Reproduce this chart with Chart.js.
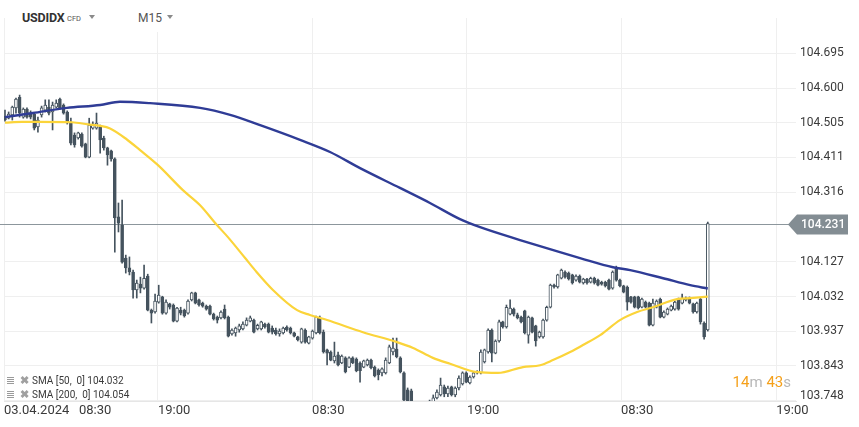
<!DOCTYPE html>
<html>
<head>
<meta charset="utf-8">
<script src="https://cdn.jsdelivr.net/npm/chart.js@4.4.1/dist/chart.umd.min.js"></script>
<style>
  html, body { margin:0; padding:0; background:#fff; }
  #wrap { position:relative; width:859px; height:427px; overflow:hidden; font-family: Roboto, "Noto Sans", sans-serif; }
  canvas { position:absolute; left:0; top:0; }
  .hdr { position:absolute; left:8px; top:0; width:232px; height:32px; background:#fff; }
  .sym { position:absolute; left:22px; top:10px; font-weight:700; font-size:12.5px; color:#333; letter-spacing:-0.2px; }
  .cfd { position:absolute; left:67px; top:14px; font-size:7.5px; color:#555; }
  .tri { position:absolute; width:0; height:0; border-left:3.5px solid transparent; border-right:3.5px solid transparent; border-top:4.5px solid #8a8a8a; }
  .tf { position:absolute; left:138px; top:11px; font-size:12px; color:#555; }
  .leg { position:absolute; left:7px; font-size:10px; color:#3a3a3a; white-space:pre; line-height:12px; }
  .leg .ic { display:inline-block; width:7px; height:7px; margin-right:6px; vertical-align:0px;
             background: repeating-linear-gradient(#9a9a9a 0 1px, transparent 1px 2px); }
  .leg .x { display:inline-block; color:#a0a0a0; font-size:11px; font-weight:700; margin-right:3px; }
  .cd { position:absolute; right:68px; top:374px; font-size:15px; line-height:16px; white-space:pre; }
  .cd .o { color:#f5a01a; } .cd .g { color:#b8b8b8; }
</style>
</head>
<body>
<div id="wrap">
  <canvas id="c" width="859" height="427"></canvas>
  <div class="hdr"></div>
  <div class="sym">USDIDX</div>
  <div class="cfd">CFD</div>
  <div class="tri" style="left:89px;top:15px;"></div>
  <div class="tf">M15</div>
  <div class="tri" style="left:167px;top:15px;"></div>
  <div class="leg" style="top:375px;"><span class="ic"></span><span class="x">✖</span>SMA [50,  0] 104.032</div>
  <div class="leg" style="top:389px;"><span class="ic"></span><span class="x">✖</span>SMA [200,  0] 104.054</div>
  <div class="cd"><span class="o">14</span><span class="g">m</span> <span class="o">43</span><span class="g">s</span></div>
</div>
<script>
// ---- candle data (USDIDX, M15) ----
const opens = [
104.524,104.518,104.527,104.546,104.575,104.521,104.543,104.532,104.529,104.494,
104.527,104.540,104.548,104.535,104.548,104.570,104.554,104.535,104.505,104.472,
104.464,104.475,104.448,104.412,104.491,104.491,104.494,104.464,104.437,104.429,
104.407,104.249,104.227,104.137,104.110,104.099,104.050,104.066,104.055,104.088,
103.995,103.990,104.017,104.031,103.987,104.012,104.009,103.965,103.995,103.995,
103.987,104.023,104.042,104.023,104.014,104.006,104.006,103.984,103.976,103.974,
103.998,103.976,103.930,103.933,103.941,103.944,103.954,103.965,103.968,103.944,
103.944,103.957,103.957,103.946,103.941,103.930,103.933,103.949,103.946,103.933,
103.922,103.908,103.941,103.905,103.919,103.933,103.974,103.935,103.887,103.881,
103.857,103.873,103.851,103.865,103.840,103.865,103.862,103.851,103.840,103.846,
103.859,103.840,103.832,103.824,103.824,103.851,103.881,103.889,103.865,103.824,
103.778,103.775,103.739,103.717,103.734,103.723,103.734,103.745,103.756,103.764,
103.786,103.767,103.786,103.764,103.783,103.794,103.824,103.797,103.813,103.827,
103.824,103.854,103.881,103.941,103.878,103.911,103.963,103.949,103.984,103.998,
103.982,103.976,103.993,103.927,103.974,103.952,103.922,103.922,103.968,104.003,
104.063,104.058,104.082,104.099,104.096,104.091,104.077,104.088,104.069,104.080,
104.071,104.082,104.077,104.071,104.071,104.077,104.055,104.112,104.077,104.061,
104.058,104.031,104.031,104.031,104.003,104.017,104.014,103.954,104.003,104.025,
103.976,103.984,103.995,103.998,104.025,104.014,104.023,104.028,104.012,103.990,
104.025,103.960,103.941];
const highs = [
104.540,104.535,104.551,104.573,104.581,104.546,104.546,104.538,104.532,104.521,
104.551,104.568,104.568,104.562,104.568,104.573,104.557,104.538,104.518,104.478,
104.480,104.478,104.450,104.518,104.508,104.532,104.499,104.469,104.439,104.431,
104.410,104.287,104.295,104.145,104.140,104.104,104.077,104.085,104.118,104.093,
103.998,104.039,104.063,104.033,104.023,104.014,104.012,104.003,104.003,103.998,
104.023,104.044,104.044,104.025,104.017,104.009,104.009,103.987,103.979,103.993,
104.009,103.979,103.944,103.949,103.957,103.963,103.974,103.979,103.971,103.957,
103.965,103.960,103.960,103.952,103.946,103.944,103.949,103.952,103.949,103.935,
103.924,103.946,103.944,103.924,103.941,103.979,103.979,103.941,103.889,103.884,
103.908,103.881,103.873,103.868,103.868,103.868,103.865,103.854,103.859,103.862,
103.862,103.843,103.835,103.838,103.865,103.900,103.919,103.919,103.868,103.827,
103.783,103.780,103.742,103.739,103.736,103.742,103.750,103.764,103.778,103.810,
103.791,103.788,103.788,103.786,103.816,103.827,103.827,103.816,103.827,103.830,
103.887,103.889,103.944,103.944,103.914,103.968,103.965,104.009,104.023,104.001,
103.987,103.979,103.995,103.979,103.976,103.954,103.938,103.971,104.006,104.066,
104.066,104.093,104.107,104.102,104.099,104.093,104.091,104.091,104.082,104.082,
104.085,104.085,104.080,104.074,104.074,104.080,104.102,104.115,104.080,104.063,
104.061,104.033,104.033,104.033,104.028,104.020,104.017,104.025,104.023,104.028,
103.993,104.001,104.009,104.020,104.028,104.039,104.031,104.031,104.014,104.017,
104.028,103.963,104.235];
const lows = [
104.510,104.516,104.513,104.532,104.521,104.518,104.518,104.516,104.486,104.480,
104.521,104.535,104.527,104.486,104.546,104.543,104.529,104.502,104.445,104.439,
104.461,104.439,104.410,104.410,104.488,104.488,104.423,104.431,104.390,104.401,
104.153,104.208,104.123,104.096,104.091,104.028,104.028,104.042,104.052,103.993,
103.960,103.987,104.014,103.984,103.984,103.998,103.963,103.963,103.982,103.976,
103.984,104.020,104.012,104.006,104.003,103.995,103.982,103.968,103.960,103.971,
103.971,103.922,103.927,103.924,103.935,103.941,103.952,103.963,103.933,103.941,
103.941,103.946,103.933,103.930,103.927,103.924,103.930,103.938,103.930,103.922,
103.911,103.905,103.905,103.903,103.916,103.930,103.930,103.878,103.846,103.857,
103.851,103.843,103.849,103.824,103.838,103.849,103.827,103.799,103.838,103.843,
103.835,103.813,103.805,103.816,103.821,103.849,103.873,103.865,103.824,103.745,
103.736,103.734,103.717,103.712,103.715,103.717,103.728,103.739,103.753,103.761,
103.759,103.759,103.761,103.759,103.778,103.791,103.797,103.794,103.810,103.821,
103.821,103.851,103.878,103.854,103.876,103.908,103.946,103.946,103.982,103.979,
103.971,103.960,103.930,103.905,103.933,103.897,103.919,103.919,103.965,104.001,
104.055,104.055,104.080,104.082,104.077,104.066,104.074,104.069,104.066,104.066,
104.069,104.066,104.061,104.063,104.058,104.050,104.052,104.074,104.058,104.042,
103.995,104.014,104.001,103.998,104.001,104.001,103.952,103.952,104.001,103.974,
103.974,103.982,103.993,103.995,103.995,104.012,104.020,104.012,103.987,103.987,
103.957,103.916,103.938];
const closes = [
104.513,104.529,104.548,104.570,104.532,104.543,104.521,104.521,104.491,104.513,
104.546,104.554,104.532,104.554,104.559,104.546,104.532,104.505,104.450,104.445,
104.478,104.442,104.412,104.499,104.502,104.505,104.459,104.437,104.418,104.407,
104.246,104.232,104.126,104.110,104.099,104.050,104.069,104.055,104.082,103.995,
103.987,104.020,104.036,103.987,104.017,104.003,103.965,104.001,103.987,103.979,
104.020,104.042,104.014,104.009,104.006,103.998,103.984,103.971,103.968,103.990,
103.974,103.924,103.941,103.946,103.952,103.957,103.968,103.974,103.935,103.954,
103.963,103.949,103.935,103.935,103.930,103.938,103.946,103.941,103.933,103.924,
103.914,103.944,103.908,103.922,103.938,103.976,103.933,103.881,103.878,103.859,
103.870,103.846,103.870,103.827,103.865,103.851,103.830,103.830,103.857,103.859,
103.838,103.816,103.819,103.835,103.859,103.895,103.892,103.868,103.827,103.750,
103.747,103.742,103.723,103.734,103.720,103.736,103.745,103.756,103.772,103.791,
103.767,103.783,103.764,103.783,103.810,103.824,103.799,103.813,103.824,103.824,
103.881,103.887,103.941,103.878,103.911,103.963,103.949,104.003,104.001,103.984,
103.974,103.963,103.933,103.976,103.935,103.911,103.935,103.968,104.003,104.063,
104.058,104.091,104.104,104.085,104.080,104.069,104.088,104.071,104.080,104.069,
104.082,104.069,104.063,104.066,104.061,104.052,104.099,104.077,104.061,104.044,
104.017,104.017,104.003,104.001,104.025,104.003,103.954,104.014,104.020,103.976,
103.990,103.998,104.006,104.017,103.998,104.028,104.028,104.014,103.990,104.014,
103.963,103.922,104.231];

// ---- moving averages (read at sampled candle positions) ----
const sma50Idx = [0, 4.6, 9, 18.3, 22.7, 26, 28.7, 33.3, 36.9, 41.8, 48.6, 53.3, 57.9, 60.9, 65.6, 68.3, 73.2, 79.8, 83.3, 88, 97.8, 107.1, 111.5, 116.9, 121.6, 129, 134.7, 141.5, 146.2, 149.7, 154.4, 157.9, 162.6, 168, 172.7, 177, 183.6, 187.2, 192];
const sma50 = [104.506, 104.508, 104.508, 104.507, 104.501, 104.497, 104.490, 104.460, 104.431, 104.390, 104.322, 104.281, 104.227, 104.194, 104.137, 104.104, 104.050, 103.995, 103.982, 103.968, 103.935, 103.908, 103.892, 103.865, 103.849, 103.826, 103.824, 103.840, 103.845, 103.859, 103.881, 103.900, 103.927, 103.968, 103.990, 104.003, 104.025, 104.028, 104.032];
const sma200Idx = [0, 7.6, 16.9, 26, 31.4, 39.6, 53.3, 61.5, 69.7, 80.6, 88.8, 97, 107.9, 116.1, 124.3, 129.8, 140.7, 151.6, 157.1, 166.1, 170.8, 179.8, 187.2, 192];
const sma200 = [104.521, 104.532, 104.546, 104.554, 104.563, 104.559, 104.546, 104.527, 104.499, 104.459, 104.426, 104.382, 104.328, 104.287, 104.243, 104.221, 104.186, 104.153, 104.137, 104.112, 104.104, 104.082, 104.063, 104.054];

// ---- axis ticks ----
const yTicks = [104.695, 104.600, 104.505, 104.411, 104.316, 104.127, 104.032, 103.937, 103.843, 103.748];
const xTickIdx = [-0.27, 41.8, 83.9, 126.2, 168.3, 210.7];
const xTickLabels = ['03.04.2024   08:30', '19:00', '08:30', '19:00', '08:30', '19:00'];

const CANDLE = '#45535e';
const lastPrice = closes[closes.length - 1];
const bottomTick = yTicks[yTicks.length - 1];

const priceLine = {
  id: 'priceLine',
  beforeDatasetsDraw(chart) {
    const c = chart.ctx, y = Math.round(chart.scales.y.getPixelForValue(lastPrice)) + 0.5;
    c.save();
    c.strokeStyle = '#8c969c'; c.lineWidth = 1;
    c.beginPath(); c.moveTo(0, y); c.lineTo(chart.chartArea.right - 6, y); c.stroke();
    c.restore();
  },
  afterDraw(chart) {
    const c = chart.ctx, ys = chart.scales.y, y = Math.round(ys.getPixelForValue(lastPrice));
    const x0 = chart.chartArea.right - 8;
    c.save();
    // bottom tick label kept inside the plot height
    c.fillStyle = '#3a3a3a'; c.font = '12px Roboto'; c.textBaseline = 'middle'; c.textAlign = 'left';
    c.fillText(bottomTick.toFixed(3), chart.chartArea.right + 4, ys.getPixelForValue(bottomTick) - 5);
    // current price marker
    c.fillStyle = '#838d93';
    c.beginPath();
    c.moveTo(x0, y + 0.5); c.lineTo(x0 + 9, y - 9.5); c.lineTo(848, y - 9.5);
    c.lineTo(848, y + 10.5); c.lineTo(x0 + 9, y + 10.5); c.closePath(); c.fill();
    c.fillStyle = '#ffffff'; c.font = '500 12px Roboto';
    c.fillText(lastPrice.toFixed(3), 801, y + 1);
    c.restore();
  }
};

new Chart(document.getElementById('c'), {
  type: 'bar',
  data: {
    datasets: [
      { type: 'line', label: 'SMA 200', data: sma200Idx.map((x, k) => ({ x, y: sma200[k] })),
        borderColor: '#2f3c96', borderWidth: 2.4, pointRadius: 0, cubicInterpolationMode: 'monotone', order: 0 },
      { type: 'line', label: 'SMA 50', data: sma50Idx.map((x, k) => ({ x, y: sma50[k] })),
        borderColor: '#fbd43a', borderWidth: 2.2, pointRadius: 0, cubicInterpolationMode: 'monotone', order: 1 },
      { type: 'bar', label: 'body', data: opens.map((o, i) => ({ x: i, y: [o, closes[i]] })),
        backgroundColor: opens.map((o, i) => closes[i] >= o ? '#ffffff' : CANDLE),
        borderColor: CANDLE, borderWidth: 1, borderSkipped: false, barThickness: 3, grouped: false, order: 2 },
      { type: 'bar', label: 'wick', data: highs.map((h, i) => ({ x: i, y: [lows[i], h] })),
        backgroundColor: CANDLE, borderWidth: 0, barThickness: 1, grouped: false, order: 3 }
    ]
  },
  options: {
    responsive: false, animation: false, maintainAspectRatio: false,
    layout: { padding: { left: 4, top: 18, right: 0, bottom: 0 } },
    plugins: { legend: { display: false }, tooltip: { enabled: false } },
    scales: {
      x: {
        type: 'linear', min: -0.27, max: 216.1, offset: false,
        afterBuildTicks: s => { s.ticks = xTickIdx.map(v => ({ value: v })); },
        afterFit: s => { s.height = 26; },
        grid: { color: '#efefef', drawTicks: false, offset: false },
        border: { display: true, color: '#e6e6e6' },
        ticks: { align: 'start', maxRotation: 0, autoSkip: false, padding: 2,
                 color: '#3a3a3a', font: { family: 'Roboto', size: 13 },
                 callback: (v, i) => xTickLabels[i] }
      },
      y: {
        position: 'right', min: 103.7475, max: 104.791,
        afterBuildTicks: s => { s.ticks = yTicks.map(v => ({ value: v })); },
        afterFit: s => { s.width = 63; },
        grid: { color: '#efefef', drawTicks: false },
        border: { display: false },
        ticks: { padding: 4, color: '#3a3a3a', font: { family: 'Roboto', size: 12 },
                 callback: v => (v === bottomTick ? '' : v.toFixed(3)) }
      }
    }
  },
  plugins: [priceLine]
});
</script>
</body>
</html>
